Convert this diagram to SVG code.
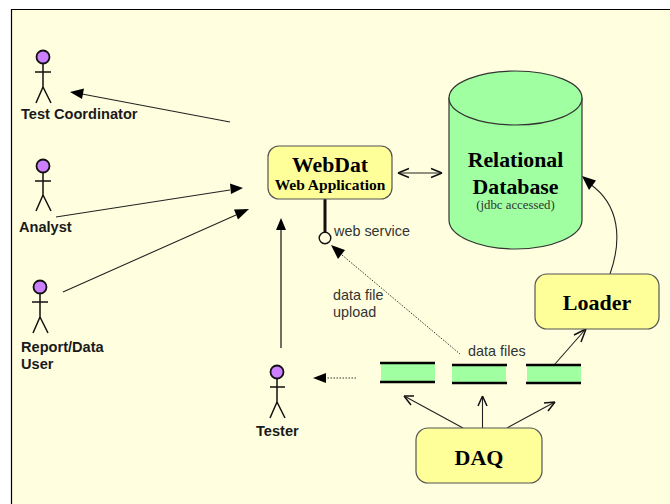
<svg xmlns="http://www.w3.org/2000/svg" width="670" height="504" viewBox="0 0 670 504">
<style>
.ser{font-family:"Liberation Serif",serif;font-weight:bold;fill:#000;text-anchor:middle}
.act{font-family:"Liberation Sans",sans-serif;font-weight:bold;font-size:14.600px;fill:#1a1a1a}
.lbl{font-family:"Liberation Sans",sans-serif;font-size:14.400px;fill:#333}
.box{fill:#ffff99;stroke:#555;stroke-width:1.2}
.head{fill:#cc80ff;stroke:#111;stroke-width:1.8}
.limb{fill:none;stroke:#111;stroke-width:1.5}
.band{fill:#a0ffa0}
.bar{stroke:#000;stroke-width:2.6}
.c{fill:none;stroke:#222;stroke-width:1.1}
.o{fill:none;stroke:#111;stroke-width:1.5}
.d{fill:none;stroke:#333;stroke-width:1;stroke-dasharray:1.5 1.5}
.h{fill:#000}
</style>
<rect width="670" height="504" fill="#fff"/>
<path d="M670 10H11.500V504H670Z" fill="#ffffe0" stroke="none"/>
<path d="M670 9.500H11.500V504" fill="none" stroke="#000" stroke-width="1.2"/>
<g id="connectors">
<path class="c" d="M230 122L82 94"/><path class="h" d="M70 92L84 88.500L82 99Z"/>
<path class="c" d="M56 217L230 190"/><path class="h" d="M243 188L230 183.500L231 194Z"/>
<path class="c" d="M63 292L236 215"/><path class="h" d="M249 209L234 209.500L238 219.500Z"/>
<path class="c" d="M281 348V222" style="stroke-width:1.3"/><path class="h" d="M281 218L286 230H276Z"/>
<path class="c" d="M400 173H441"/><path class="o" d="M398 173L409 168.500M398 173L409 177.500M442 173L431 168.500M442 173L431 177.500"/>
<path class="c" d="M325 199V232" style="stroke:#111;stroke-width:3"/>
<path class="d" d="M342 255L460 354"/><path class="h" d="M331 245L345 250L338 259Z"/>
<path class="d" d="M356 378H324"/><path class="h" d="M313 378L326 373V383Z"/>
<path class="c" d="M610 274C622 240 620 205 590 184"/><path class="h" d="M582 176L596 180.500L589 190Z"/>
<path class="c" d="M555 364L584 331"/><path d="M586 329L574 335M586 329L581 342" class="o"/>
<path class="c" d="M463 428L406 397"/><path d="M404 396L414 396M404 396L411 405" class="o"/>
<path class="c" d="M482.500 428V398"/><path d="M482.500 396L478 406M482.500 396L487 406" class="o"/>
<path class="c" d="M507 428L553 403"/><path d="M555 402L544 403M555 402L548 411" class="o"/>
</g>
<g id="actor-test-coordinator">
<circle class="head" cx="43" cy="57" r="6.500"/><path class="limb" d="M43 64V87M35 72H51M43 87L36 103M43 87L51 103"/>
<text class="act" x="21" y="119">Test Coordinator</text>
</g>
<g id="actor-analyst">
<circle class="head" cx="43" cy="166" r="6.500"/><path class="limb" d="M43 173V195M35 181H51M43 195L36 211M43 195L51 211"/>
<text class="act" x="19" y="232">Analyst</text>
</g>
<g id="actor-report-user">
<circle class="head" cx="40" cy="287" r="6.500"/><path class="limb" d="M40 294V317M32 302H48M40 317L33 333M40 317L48 333"/>
<text class="act" x="21" y="352">Report/Data</text><text class="act" x="21" y="369">User</text>
</g>
<g id="actor-tester">
<circle class="head" cx="277" cy="372" r="6.500"/><path class="limb" d="M277 379V402M270 387H285M277 402L270 418M277 402L285 418"/>
<text class="act" x="256" y="436">Tester</text>
</g>
<g id="webdat">
<rect class="box" x="268" y="146" width="124" height="53" rx="11"/>
<text class="ser" x="330" y="172" font-size="21.700">WebDat</text>
<text class="ser" x="330" y="190" font-size="15.500">Web Application</text>
</g>
<g id="web-service">
<circle cx="325" cy="238" r="5.800" fill="#ffffe0" stroke="#111" stroke-width="1.400"/>
<text class="lbl" x="334" y="236">web service</text>
</g>
<g id="database">
<path d="M449 98V220C449 236 479 249 515.500 249S582 236 582 220V98Z" fill="#a0ffa0" stroke="#333" stroke-width="1.200"/>
<ellipse cx="515.500" cy="98" rx="66.500" ry="27" fill="#a0ffa0" stroke="#333" stroke-width="1.200"/>
<text class="ser" x="515.500" y="167" font-size="21.800">Relational</text>
<text class="ser" x="515.500" y="194" font-size="21.800">Database</text>
<text x="515.500" y="209" font-size="12.800" text-anchor="middle" font-family="'Liberation Serif',serif" fill="#333">(jdbc accessed)</text>
</g>
<g id="loader">
<rect class="box" x="535" y="274" width="124" height="55" rx="12"/>
<text class="ser" x="597" y="310" font-size="22">Loader</text>
</g>
<g id="daq">
<rect class="box" x="416" y="428" width="126" height="55" rx="12"/>
<text class="ser" x="479" y="465" font-size="22">DAQ</text>
</g>
<g id="store-1">
<rect class="band" x="381" y="364" width="54" height="18"/><path class="bar" d="M380 363H435M380 382H435"/>
</g>
<g id="store-2">
<rect class="band" x="452" y="365" width="54" height="18"/><path class="bar" d="M452 365H507M452 383H507"/>
</g>
<g id="store-3">
<rect class="band" x="527" y="365" width="54" height="18"/><path class="bar" d="M526 365H581M526 383H581"/>
</g>
<text class="lbl" x="468" y="356">data files</text>
<text class="lbl" x="333" y="300">data file</text>
<text class="lbl" x="333" y="317">upload</text>
</svg>
